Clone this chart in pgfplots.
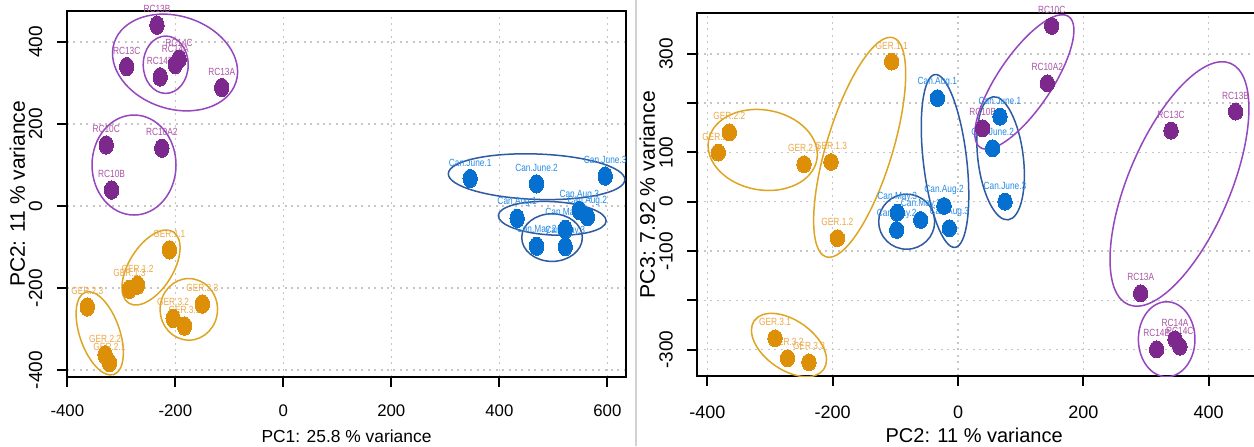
\documentclass[border=0pt]{standalone}
\usepackage{fontspec}
\setmainfont{Liberation Sans}
\usepackage{graphicx}
\usepackage{pgfplots}
\usepackage{pgfplotstable}
\pgfplotsset{compat=1.18}

\definecolor{ppt}{RGB}{125,40,140}
\definecolor{plab}{RGB}{170,85,165}
\definecolor{pell}{RGB}{150,70,190}
\definecolor{opt}{RGB}{222,143,8}
\definecolor{olab}{RGB}{236,168,70}
\definecolor{oell}{RGB}{222,165,35}
\definecolor{bpt}{RGB}{5,112,208}
\definecolor{blab}{RGB}{40,140,230}
\definecolor{bell}{RGB}{45,90,160}

% ---------- left panel (PC1 vs PC2) ----------
\pgfplotstableread{
x y label
-234 441 RC13B
-290 340 RC13C
-228 315 RC14B
-200 345 RC14A
-193 358 RC14C
-114 289 RC13A
-328 149 RC10C
-225 141 RC10A2
-318 39 RC10B
}\LP
\pgfplotstableread{
x y label
-211 -107 GER.1.1
-270 -193 GER.1.2
-285 -203 GER.1.3
-363 -246 GER.2.3
-330 -363 GER.2.2
-322 -382 GER.2.1
-150 -239 GER.3.3
-204 -274 GER.3.2
-183 -293 GER.3.1
}\LO
\pgfplotstableread{
x y label
346 67 Can.June.1
469 54 Can.June.2
596 73 Can.June.3
433 -30 Can.Aug.1
548 -11 Can.Aug.3
563 -26 Can.Aug.2
522 -57 Can.May.1
469 -98 Can.May.2
522 -99 Can.May.3
}\LB
% ---------- right panel (PC2 vs PC3) ----------
\pgfplotstableread{
x y label
149.5 356.4 RC10C
142.5 240 RC10A2
39.4 148.9 RC10B
339.9 144 RC13C
443 182.6 RC13B
291.5 -185.9 RC13A
317 -299.4 RC14B
346.3 -279 RC14A
354 -294 RC14C
}\RP
\pgfplotstableread{
x y label
-105.8 284 GER.1.1
-365 140.8 GER.2.2
-382.5 99.4 GER.2.1
-245.7 75.9 GER.2.3
-202.6 80.5 GER.1.3
-192.5 -74 GER.1.2
-292 -277 GER.3.1
-272 -317.6 GER.3.2
-237.8 -325.8 GER.3.3
}\RO
\pgfplotstableread{
x y label
-33 210 Can.Aug.1
67 172.4 Can.June.1
55.3 108.3 Can.June.2
75 0 Can.June.3
-22.3 -8.7 Can.Aug.2
-13.9 -54 Can.Aug.3
-96.9 -22.3 Can.May.3
-97.8 -57.4 Can.May.2
-59.5 -37.1 Can.May.1
}\RB

\tikzset{ell/.style={draw=#1, line width=0.75pt}}
\pgfplotsset{
  pcabase/.style={
    scale only axis,
    axis line style={black, line width=1pt},
    tick pos=left,
    tick align=outside,
    major tick length=5pt,
    tick style={black, line width=1pt},
    grid=major,
    major grid style={gray!45, line width=0.8pt, dash pattern=on 1pt off 2.2pt},
    clip=true,
  },
  lab/.style={draw=none, mark=none, forget plot,
    nodes near coords={\scalebox{0.8}[1]{\pgfplotspointmeta}},
    point meta=explicit symbolic,
    every node near coord/.append style={font=\fontsize{5.2}{6}\selectfont, text=#1, anchor=center, yshift=8pt, inner sep=0pt}},
  ptsL/.style={only marks, mark=*, mark size=4.6pt, mark options={draw=#1, fill=#1, line width=0pt, xscale=0.78}},
  ptsR/.style={only marks, mark=*, mark size=4.2pt, mark options={draw=#1, fill=#1, line width=0pt, xscale=0.86}},
}

\begin{document}
\begin{tikzpicture}
\useasboundingbox (0,0) rectangle (627pt,223pt);
\fill[white] (0,0) rectangle (627pt,223pt);
\draw[gray!35, line width=0.8pt] (318pt,0) -- (318pt,223pt);

\begin{axis}[pcabase,
  at={(33.5pt,34.5pt)}, anchor=south west,
  width=279.5pt, height=183pt,
  xmin=-400.6, xmax=634.6, ymin=-417, ymax=475.6,
  xtick={-400,-200,0,200,400,600}, xticklabels={-400,-200,0,200,400,600},
  ytick={-400,-200,0,200,400}, yticklabels={-400,-200,0,200,400},
  xticklabel style={font=\fontsize{8.4}{9}\selectfont, inner sep=0pt, anchor=north},
  xticklabel shift=8.6pt,
  yticklabel style={font=\fontsize{9.5}{10}\selectfont, inner sep=0pt, rotate=90, anchor=south},
  yticklabel shift=7.1pt,
  xlabel={PC1: 25.8 \% variance},
  ylabel={PC2: 11 \% variance},
  xlabel style={font=\fontsize{8.7}{10}\selectfont, at={(axis description cs:0.5,-0.1612)}, anchor=center, inner sep=0pt},
  ylabel style={font=\fontsize{10.5}{12}\selectfont, at={(axis description cs:-0.0889,0.5)}, anchor=center, inner sep=0pt},
]
\addplot[lab=plab] table[x=x, y=y, meta=label] {\LP};
\addplot[lab=olab] table[x=x, y=y, meta=label] {\LO};
\addplot[lab=blab] table[x=x, y=y, meta=label] {\LB};
\addplot[ptsL=ppt] table[x=x, y=y] {\LP};
\addplot[ptsL=opt] table[x=x, y=y] {\LO};
\addplot[ptsL=bpt] table[x=x, y=y] {\LB};
% group ellipses
\draw[ell=pell, rotate around={-18:(axis cs:-200.5,350)}] (axis cs:-200.5,350) ellipse [x radius=32pt, y radius=23.2pt];
\draw[ell=pell] (axis cs:-217.8,344.6) ellipse [x radius=11.25pt, y radius=14.35pt];
\draw[ell=pell] (axis cs:-276.5,100) ellipse [x radius=21pt, y radius=25pt];
\draw[ell=oell, rotate around={58:(axis cs:-245,-150)}] (axis cs:-245,-150) ellipse [x radius=21pt, y radius=11pt];
\draw[ell=oell, rotate around={109:(axis cs:-340,-310.5)}] (axis cs:-340,-310.5) ellipse [x radius=21.75pt, y radius=10pt];
\draw[ell=oell] (axis cs:-175,-252) ellipse [x radius=14.35pt, y radius=15.4pt];
\draw[ell=bell, rotate around={-2:(axis cs:469,71.5)}] (axis cs:469,71.5) ellipse [x radius=44.15pt, y radius=11.35pt];
\draw[ell=bell, rotate around={-3:(axis cs:498,-30)}] (axis cs:498,-30) ellipse [x radius=27pt, y radius=8.35pt];
\draw[ell=bell] (axis cs:497.6,-77) ellipse [x radius=15.15pt, y radius=11.9pt];
\end{axis}

\begin{axis}[pcabase,
  at={(348.65pt,35pt)}, anchor=south west,
  width=280.35pt, height=181.35pt,
  xmin=-416, xmax=478.7, ymin=-353.5, ymax=382,
  xtick={-400,-200,0,200,400}, xticklabels={-400,-200,0,200,400},
  ytick={-300,-200,-100,0,100,200,300}, yticklabels={-300,{},-100,0,100,{},300},
  xticklabel style={font=\fontsize{9}{10}\selectfont, inner sep=0pt, anchor=north},
  xticklabel shift=10pt,
  yticklabel style={font=\fontsize{9.5}{10}\selectfont, inner sep=0pt, rotate=90, anchor=south},
  yticklabel shift=7.1pt,
  xlabel={PC2: 11 \% variance},
  ylabel={PC3: 7.92 \% variance},
  xlabel style={font=\fontsize{10}{12}\selectfont, at={(axis description cs:0.4938,-0.1627)}, anchor=center, inner sep=0pt},
  ylabel style={font=\fontsize{10.6}{12}\selectfont, at={(axis description cs:-0.0892,0.5)}, anchor=center, inner sep=0pt},
]
\addplot[lab=plab] table[x=x, y=y, meta=label] {\RP};
\addplot[lab=olab] table[x=x, y=y, meta=label] {\RO};
\addplot[lab=blab] table[x=x, y=y, meta=label] {\RB};
\addplot[ptsR=ppt] table[x=x, y=y] {\RP};
\addplot[ptsR=opt] table[x=x, y=y] {\RO};
\addplot[ptsR=bpt] table[x=x, y=y] {\RB};
% group ellipses
\draw[ell=oell, rotate around={73:(axis cs:-156.9,110.3)}] (axis cs:-156.9,110.3) ellipse [x radius=57.3pt, y radius=16.5pt];
\draw[ell=oell, rotate around={-10:(axis cs:-311.6,104.9)}] (axis cs:-311.6,104.9) ellipse [x radius=27.5pt, y radius=20pt];
\draw[ell=oell, rotate around={-35:(axis cs:-269.7,-290.7)}] (axis cs:-269.7,-290.7) ellipse [x radius=21.2pt, y radius=12.4pt];
\draw[ell=bell, rotate around={96.6:(axis cs:-20.7,82.6)}] (axis cs:-20.7,82.6) ellipse [x radius=43.5pt, y radius=10.85pt];
\draw[ell=bell, rotate around={97:(axis cs:68,88)}] (axis cs:68,88) ellipse [x radius=31pt, y radius=11.35pt];
\draw[ell=bell] (axis cs:-81.9,-40.6) ellipse [x radius=14pt, y radius=13.75pt];
\draw[ell=pell, rotate around={56:(axis cs:105.9,242.8)}] (axis cs:105.9,242.8) ellipse [x radius=39.5pt, y radius=13.5pt];
\draw[ell=pell, rotate around={67:(axis cs:353.4,35.9)}] (axis cs:353.4,35.9) ellipse [x radius=65.5pt, y radius=25.5pt];
\draw[ell=pell] (axis cs:333,-279) ellipse [x radius=14.15pt, y radius=18.75pt];
\end{axis}
\end{tikzpicture}
\end{document}
